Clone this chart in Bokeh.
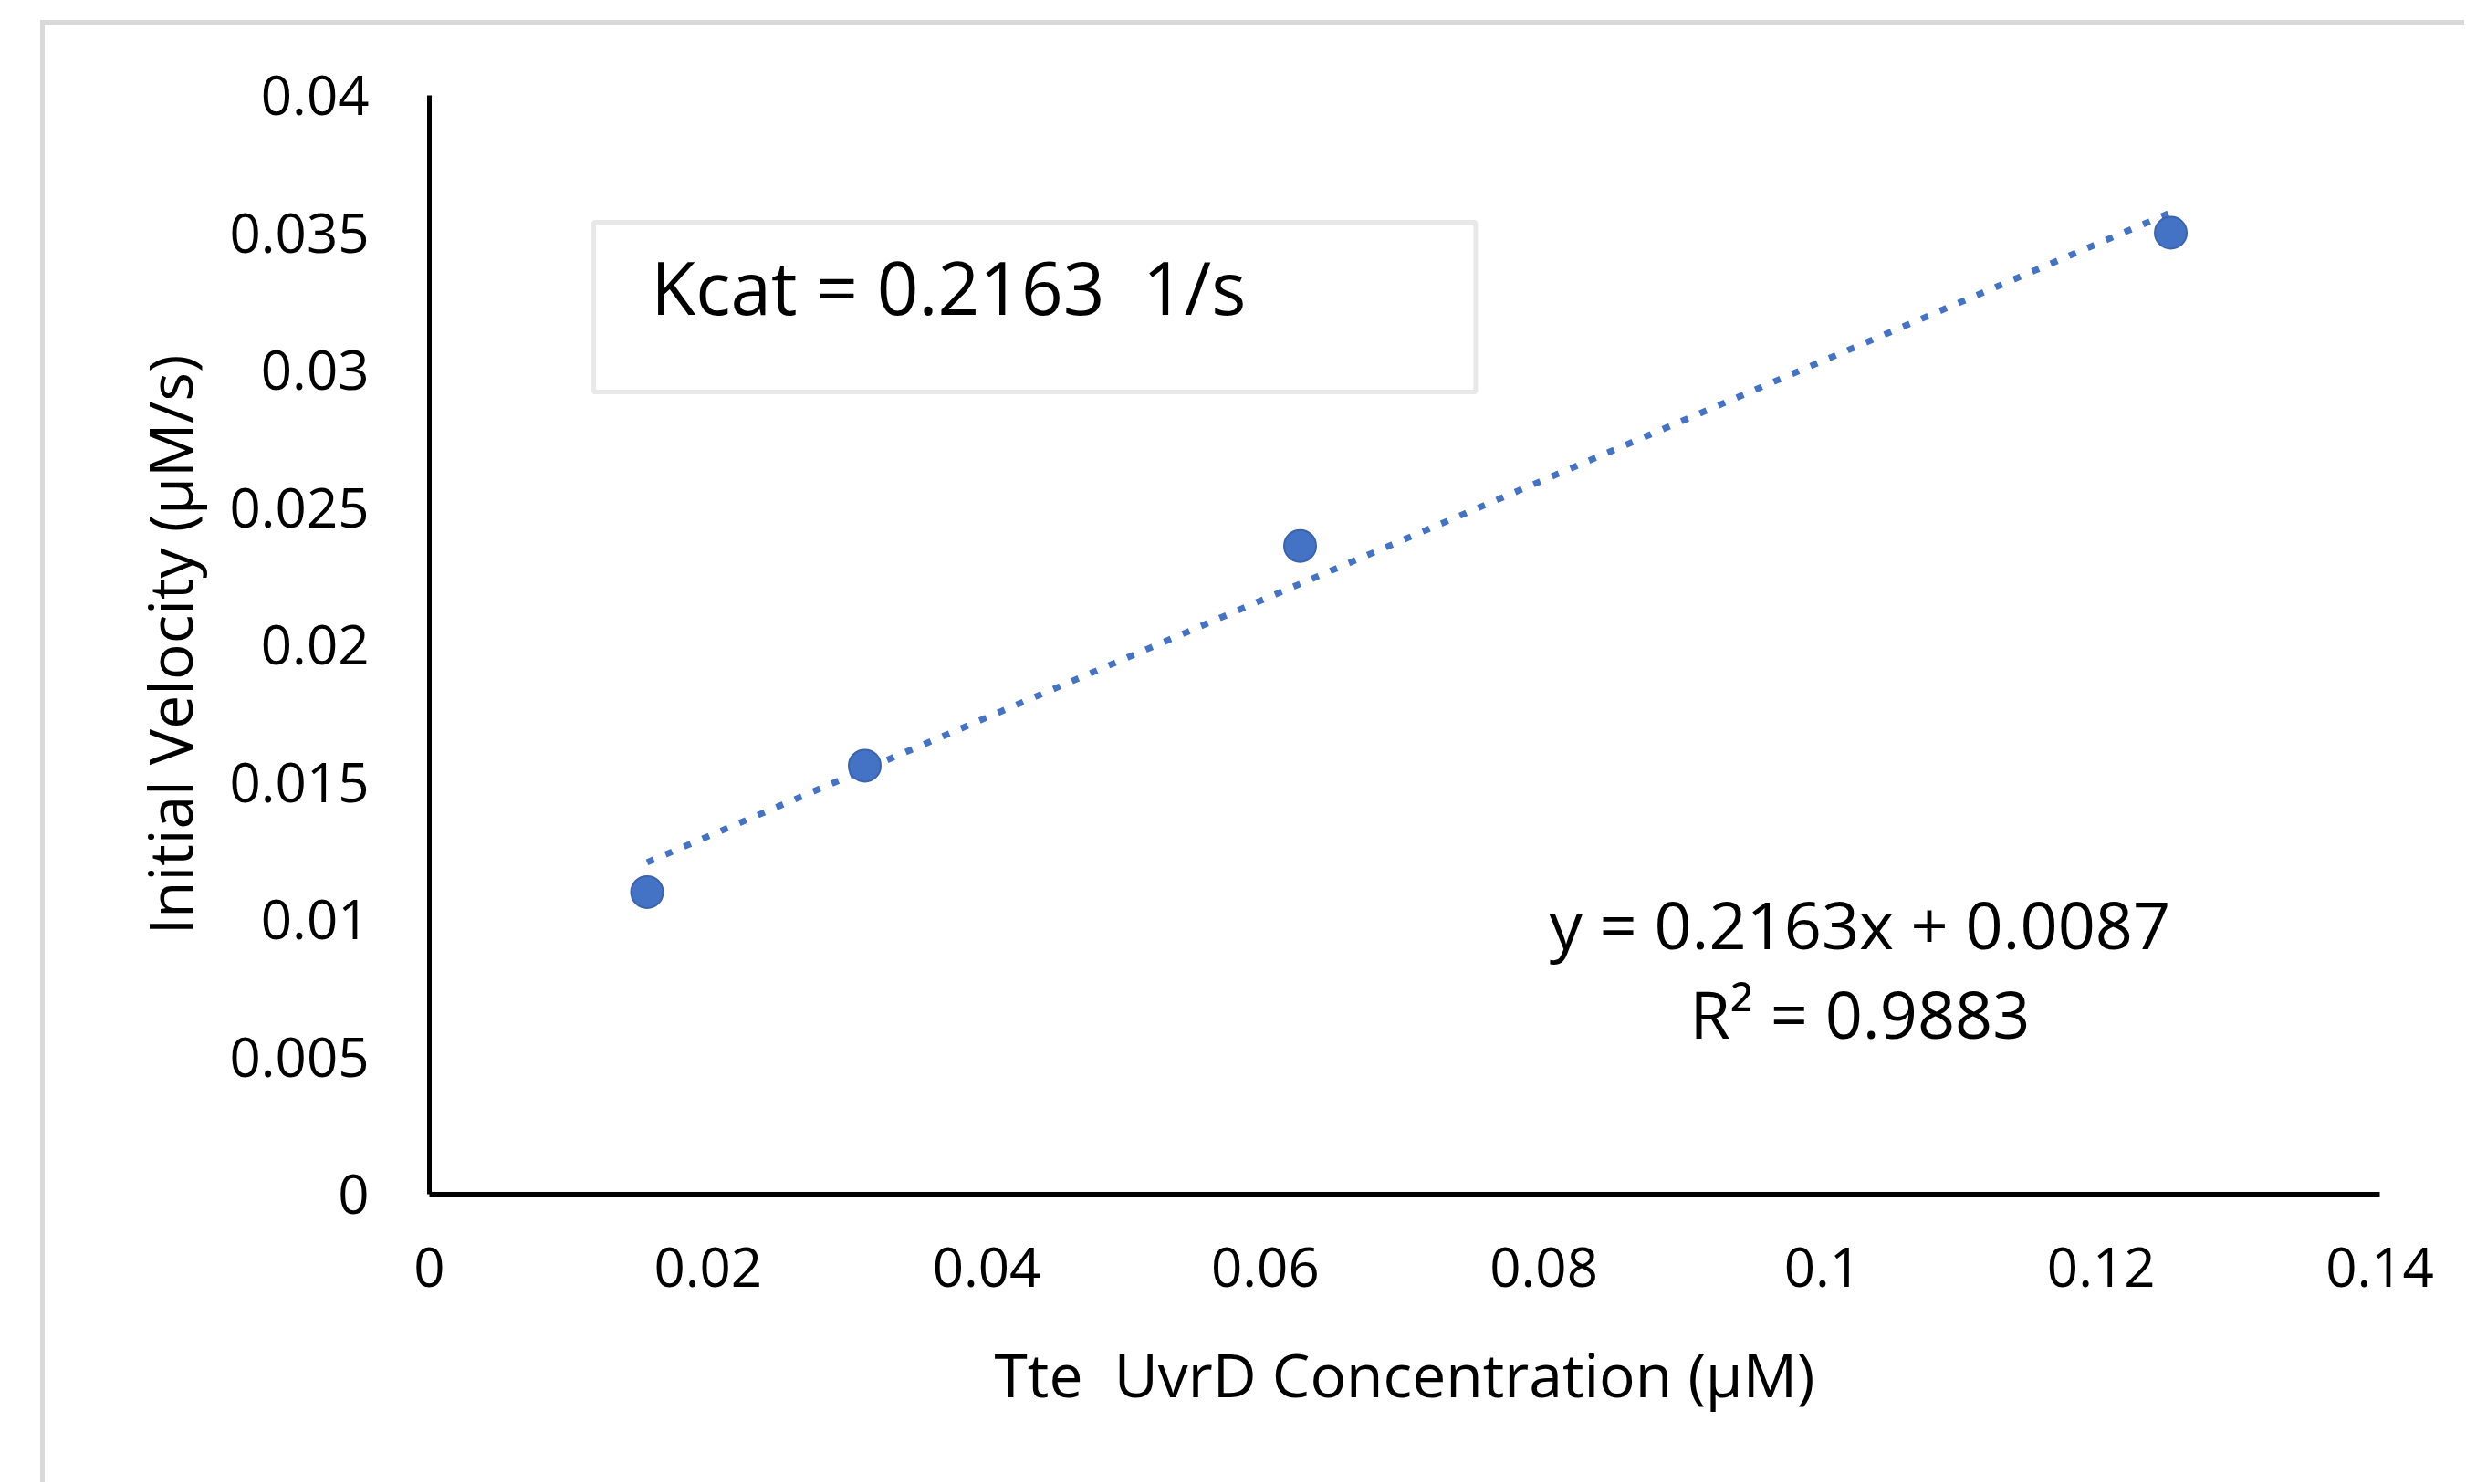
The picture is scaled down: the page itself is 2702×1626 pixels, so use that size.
from bokeh.plotting import figure
from bokeh.models import FixedTicker, Label, BoxAnnotation, Range1d
from bokeh.embed import file_html
from bokeh.resources import INLINE

# ---- data ----
conc = [0.015625, 0.03125, 0.0625, 0.125]          # Tte UvrD concentration (uM)
velocity = [0.0110, 0.0156, 0.0236, 0.0350]         # initial velocity (uM/s)
trend_slope = 0.2163
trend_intercept = 0.0087
r_squared = 0.9883
kcat = 0.2163

x_ticks = [0, 0.02, 0.04, 0.06, 0.08, 0.1, 0.12, 0.14]
x_tick_labels = ["0", "0.02", "0.04", "0.06", "0.08", "0.1", "0.12", "0.14"]
y_ticks = [0, 0.005, 0.01, 0.015, 0.02, 0.025, 0.03, 0.035, 0.04]
y_tick_labels = ["0", "0.005", "0.01", "0.015", "0.02", "0.025", "0.03", "0.035", "0.04"]

x_title = "Tte\u00a0 UvrD Concentration (\u00b5M)"
y_title = "Initial Velocity (\u00b5M/s)"

# linear trendline over the data range
trend_x = [min(conc), max(conc)]
trend_y = [trend_slope * v + trend_intercept for v in trend_x]

FONT = "Open Sans"
BLUE = "#4472C4"

p = figure(width=2700, height=1624, output_backend="svg", toolbar_location=None,
           x_range=Range1d(x_ticks[0], x_ticks[-1]), y_range=Range1d(y_ticks[0], y_ticks[-1]),
           min_border_left=470, min_border_right=93, min_border_top=104, min_border_bottom=316)
p.background_fill_color = "white"
p.border_fill_alpha = 0
p.outline_line_color = None
p.grid.visible = False
# outer chart-area border (light grey lines at left and top), drawn behind the canvas
p.styles = {
    "background": ("linear-gradient(#d9d9d9, #d9d9d9) 44px 22px / 5px 100% no-repeat, "
                   "linear-gradient(#d9d9d9, #d9d9d9) 44px 22px / 100% 5px no-repeat, white"),
}

for ax in (p.xaxis, p.yaxis):
    ax.axis_line_color = "black"
    ax.axis_line_width = 5
    ax.major_tick_line_color = None
    ax.minor_tick_line_color = None
    ax.major_tick_out = 0
    ax.major_tick_in = 0
    ax.major_label_text_font = FONT
    ax.major_label_text_font_size = "60px"
    ax.major_label_text_color = "black"
    ax.axis_label_text_font = FONT
    ax.axis_label_text_font_size = "66px"
    ax.axis_label_text_font_style = "normal"
    ax.axis_label_text_color = "black"

p.xaxis.ticker = FixedTicker(ticks=x_ticks)
p.xaxis.major_label_overrides = dict(zip(x_ticks, x_tick_labels))
p.yaxis.ticker = FixedTicker(ticks=y_ticks)
p.yaxis.major_label_overrides = dict(zip(y_ticks, y_tick_labels))
p.xaxis.axis_label = x_title
p.yaxis.axis_label = y_title
p.xaxis.major_label_standoff = 58
p.yaxis.major_label_standoff = 66
p.xaxis.axis_label_standoff = 47
p.yaxis.axis_label_standoff = 19

# Kcat text box
p.add_layout(BoxAnnotation(left=0.0118, right=0.0751, top=0.03538, bottom=0.0292,
                           fill_color="white", fill_alpha=1,
                           line_color="#b4b4b4", line_width=5))
p.add_layout(Label(x=0.01590, y=0.03304, text=f"Kcat = {kcat}\u00a0 1/s",
                   text_font=FONT, text_font_size="80px", text_color="black",
                   text_baseline="alphabetic"))

# trendline
p.line(trend_x, trend_y, line_color=BLUE, line_width=7, line_dash="8 14")
p.scatter(conc, velocity, size=35, fill_color=BLUE, line_color="#3B64AD", line_width=2)

# equation labels
p.add_layout(Label(x=0.10269, y=0.00984, text=f"y = {trend_slope}x + {trend_intercept}",
                   text_font=FONT, text_font_size="72px", text_color="black",
                   text_align="center", text_baseline="alphabetic"))
p.add_layout(Label(x=0.10269, y=0.00658, text=f"R\u00b2 = {r_squared}",
                   text_font=FONT, text_font_size="72px", text_color="black",
                   text_align="center", text_baseline="alphabetic"))

open("out.html", "w").write(file_html(p, INLINE))
